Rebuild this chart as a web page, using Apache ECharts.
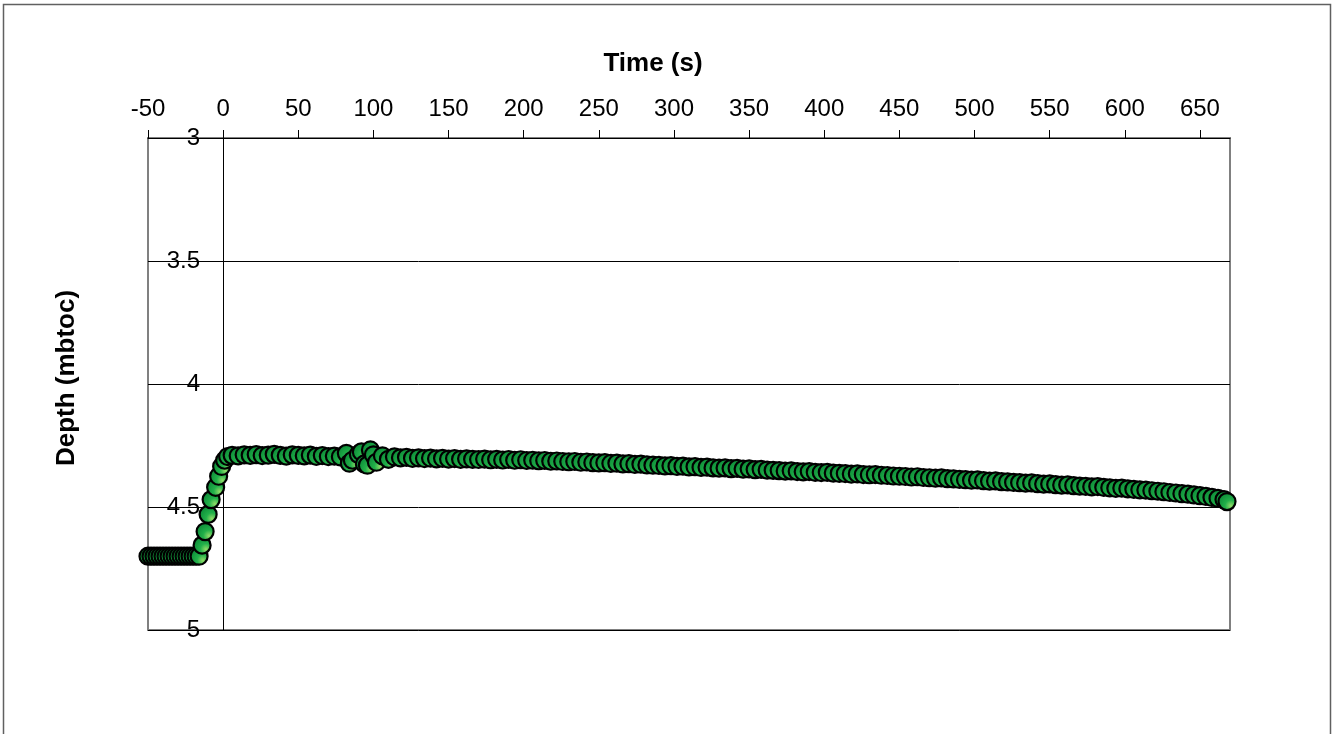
<!DOCTYPE html>
<html>
<head>
<meta charset="utf-8">
<script src="https://cdn.jsdelivr.net/npm/echarts@6/dist/echarts.min.js"></script>
<style>
html,body{margin:0;padding:0;background:#fff;}
#chart{width:1333px;height:734px;}
</style>
</head>
<body>
<div id="chart"></div>
<script>
// ---- data ----
const xTickValues = [-50,0,50,100,150,200,250,300,350,400,450,500,550,600,650];
const yTickValues = [3,3.5,4,4.5,5];

const times = [
  -50,-48,-46,-44,-42,-40,-38,-36,-34,-32,-30,-28,-26,-24,-22,-20,-18,-16,
  -14,-12,-10,-8,-5,-3,-1,1,3,6,
  10,14,18,22,26,30,34,38,42,46,
  50,54,58,62,66,70,74,78,82,84,86,
  90,92,94,96,98,100,102,106,110,114,118,122,126,
  130,134,138,142,146,150,154,158,162,166,
  170,174,178,182,186,190,194,198,202,206,
  210,214,218,222,226,230,234,238,242,246,
  250,254,258,262,266,270,274,278,282,286,
  290,294,298,302,306,310,314,318,322,326,
  330,334,338,342,346,350,354,358,362,366,
  370,374,378,382,386,390,394,398,402,406,
  410,414,418,422,426,430,434,438,442,446,
  450,454,458,462,466,470,474,478,482,486,
  490,494,498,502,506,510,514,518,522,526,
  530,534,538,542,546,550,554,558,562,566,
  570,574,578,582,586,590,594,598,602,606,
  610,614,618,622,626,630,634,638,642,646,
  650,654,658,662,666,668
];

const depths = [
  4.70,4.70,4.70,4.70,4.70,4.70,4.70,4.70,4.70,4.70,4.70,4.70,4.70,4.70,4.70,4.70,4.70,4.70,
  4.655,4.60,4.53,4.47,4.42,4.375,4.335,4.31,4.295,4.29,
  4.292,4.288,4.290,4.287,4.291,4.289,4.286,4.290,4.293,4.288,
  4.290,4.292,4.289,4.294,4.291,4.295,4.293,4.296,4.282,4.322,4.310,
  4.286,4.276,4.325,4.330,4.268,4.288,4.318,4.292,4.306,4.296,4.300,4.298,4.302,
  4.300,4.303,4.301,4.304,4.302,4.305,4.303,4.306,4.304,4.306,
  4.307,4.305,4.308,4.306,4.309,4.307,4.310,4.308,4.311,4.310,
  4.312,4.311,4.314,4.313,4.315,4.316,4.315,4.318,4.317,4.320,
  4.321,4.320,4.323,4.322,4.325,4.324,4.327,4.326,4.329,4.330,
  4.331,4.333,4.332,4.335,4.334,4.337,4.336,4.339,4.338,4.341,
  4.342,4.341,4.344,4.343,4.346,4.345,4.348,4.347,4.350,4.351,
  4.352,4.354,4.353,4.356,4.357,4.356,4.359,4.360,4.359,4.362,
  4.363,4.364,4.366,4.365,4.368,4.369,4.368,4.371,4.372,4.374,
  4.375,4.376,4.378,4.377,4.380,4.381,4.383,4.382,4.385,4.386,
  4.388,4.389,4.391,4.390,4.393,4.395,4.394,4.397,4.398,4.400,
  4.401,4.403,4.402,4.405,4.407,4.406,4.409,4.411,4.410,4.413,
  4.415,4.416,4.418,4.417,4.420,4.422,4.424,4.423,4.426,4.428,
  4.430,4.431,4.434,4.436,4.438,4.441,4.443,4.446,4.448,4.451,
  4.454,4.457,4.461,4.465,4.470,4.478
];

const points = times.map((t, i) => [t, depths[i]]);

const FONT = "'Liberation Sans', Arial, sans-serif";
const GRID_LEFT = 148, GRID_RIGHT = 103;
const X_MIN = -50, X_MAX = 670;
// distance (px) from the grid's left edge to x = 0, so the y axis sits on x = 0
const plotW = 1333 - GRID_LEFT - GRID_RIGHT;
const yAxisOffset = -(0 - X_MIN) / (X_MAX - X_MIN) * plotW;

const chart = echarts.init(document.getElementById('chart'), null, {renderer: 'canvas'});

chart.setOption({
  backgroundColor: '#ffffff',
  animation: false,
  grid: {
    left: GRID_LEFT, right: GRID_RIGHT, top: 138, bottom: 104,
    containLabel: false,
    outerBoundsMode: 'none',
    show: true, borderColor: '#808080', borderWidth: 2, backgroundColor: 'transparent'
  },
  graphic: [
    {
      type: 'rect', silent: true, z: -10,
      shape: {x: 3.5, y: 4.5, width: 1327, height: 780},
      style: {fill: 'none', stroke: '#606060', lineWidth: 1.5}
    },
    {
      type: 'text', silent: true, x: 653, y: 64,
      style: {text: 'Time (s)', font: 'bold 26px ' + FONT, fill: '#000', align: 'center', verticalAlign: 'middle'}
    }
  ],
  xAxis: {
    type: 'value',
    position: 'top',
    min: X_MIN, max: X_MAX,
    interval: 50,
    axisLine: {show: true, onZero: false, lineStyle: {color: '#000', width: 1}},
    axisTick: {show: true, inside: false, length: 8, customValues: xTickValues, lineStyle: {color: '#000', width: 1}},
    axisLabel: {show: true, customValues: xTickValues, margin: 17, fontSize: 24, fontFamily: FONT, color: '#000'},
    splitLine: {show: false}
  },
  yAxis: {
    type: 'value',
    position: 'left',
    offset: yAxisOffset,
    inverse: true,
    min: 3, max: 5,
    interval: 0.5,
    name: 'Depth (mbtoc)',
    nameLocation: 'middle',
    nameGap: 143,
    nameRotate: 90,
    nameTextStyle: {fontSize: 26, fontWeight: 'bold', fontFamily: FONT, color: '#000', padding: [0, 0, 0, 12]},
    axisLine: {show: true, onZero: false, lineStyle: {color: '#000', width: 1}},
    axisTick: {show: true, inside: false, length: 7, customValues: yTickValues, lineStyle: {color: '#000', width: 1}},
    axisLabel: {show: true, customValues: yTickValues, margin: 23, fontSize: 24, fontFamily: FONT, color: '#000'},
    splitLine: {show: true, lineStyle: {color: '#000', width: 1}}
  },
  series: [{
    type: 'scatter',
    data: points,
    symbol: 'circle',
    symbolSize: 17,
    clip: false,
    itemStyle: {
      color: {
        type: 'radial', x: 0.7, y: 0.72, r: 0.75,
        colorStops: [
          {offset: 0, color: '#92dc68'},
          {offset: 0.4, color: '#22b04a'},
          {offset: 1, color: '#0b8a36'}
        ]
      },
      borderColor: '#000',
      borderWidth: 2.2,
      opacity: 1
    },
    emphasis: {disabled: true}
  }]
});
</script>
</body>
</html>
